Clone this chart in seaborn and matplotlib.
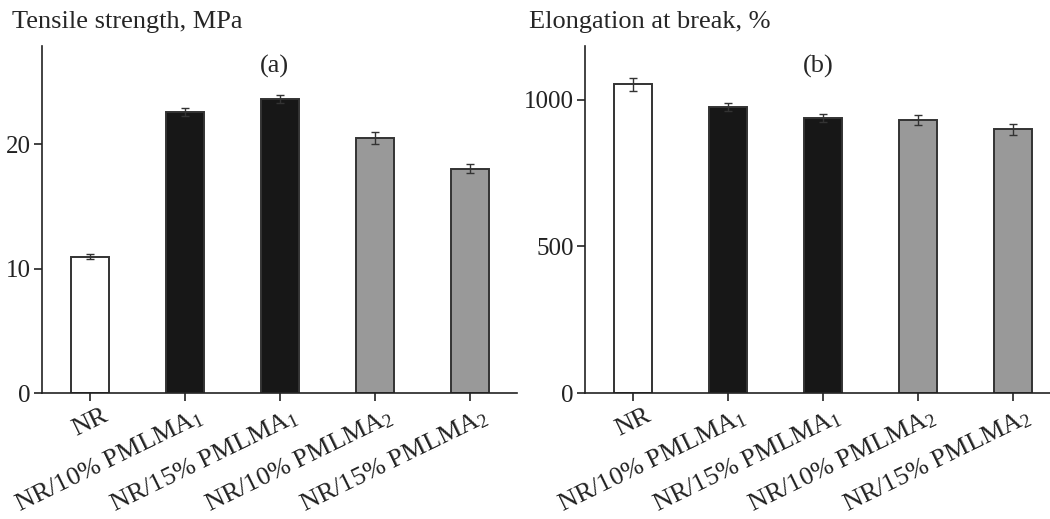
import matplotlib
matplotlib.use("Agg")
import matplotlib.pyplot as plt
import matplotlib.transforms as mtransforms
import seaborn as sns
import pandas as pd

samples = ['NR', 'NR/10% PMLMA$_1$', 'NR/15% PMLMA$_1$', 'NR/10% PMLMA$_2$', 'NR/15% PMLMA$_2$']
bar_colors = ['#ffffff', '#171717', '#171717', '#999999', '#999999']

tensile = [10.95, 22.6, 23.65, 20.5, 18.05]
tensile_err = [0.2, 0.35, 0.3, 0.5, 0.37]

elongation = [1052, 975, 937, 930, 899]
elongation_err = [23, 13, 13, 17, 18]

sns.set_style('white')
plt.rcParams['font.family'] = ['Liberation Serif', 'DejaVu Serif']
plt.rcParams['mathtext.fontset'] = 'custom'
plt.rcParams['mathtext.rm'] = 'Liberation Serif'
plt.rcParams['mathtext.it'] = 'Liberation Serif:italic'
plt.rcParams['font.size'] = 19

fig = plt.figure(figsize=(10.5, 5.19), dpi=100)
ax1 = fig.add_axes([42 / 1050, 1 - 393 / 519, 475 / 1050, 347 / 519])
ax2 = fig.add_axes([585 / 1050, 1 - 393 / 519, 475 / 1050, 347 / 519])


def draw_panel(ax, values, errs, ymax, yticks, tag, ylabel, xlab):
    df = pd.DataFrame({'sample': samples, 'value': values})
    sns.barplot(data=df, x='sample', y='value', hue='sample', palette=bar_colors,
                width=0.4, edgecolor='#333333', linewidth=1.4, legend=False, ax=ax)
    ax.errorbar(range(len(samples)), values, yerr=errs, fmt='none',
                ecolor='#333333', elinewidth=1, capsize=3, capthick=1)
    ax.set_xlim(-0.5, 4.5)
    ax.set_ylim(0, ymax)
    ax.set_yticks(yticks)
    ax.set_xlabel('')
    ax.set_ylabel('')
    for side in ['top', 'right']:
        ax.spines[side].set_visible(False)
    for side in ['left', 'bottom']:
        ax.spines[side].set_color('#222222')
        ax.spines[side].set_linewidth(1.2)
    ax.tick_params(axis='both', direction='out', length=6, width=1.2,
                   colors='#222222', left=True, bottom=True, pad=2)
    ax.tick_params(axis='y', labelsize=18)
    ax.set_xticks(range(len(samples)))
    ax.set_xticklabels(samples, rotation=26, ha='right', rotation_mode='anchor', fontsize=19)
    offset = mtransforms.ScaledTranslation(0.12, 0, fig.dpi_scale_trans)
    for lab in ax.get_xticklabels():
        lab.set_transform(lab.get_transform() + offset)
    ax.text(0.49, 0.94, tag, transform=ax.transAxes, ha='center', va='center', fontsize=19)
    fig.text(xlab, 1 - 22 / 519, ylabel, ha='left', va='center', fontsize=19)


draw_panel(ax1, tensile, tensile_err, 27.9, [0, 10, 20], '(a)', 'Tensile strength, MPa', 12 / 1050)
draw_panel(ax2, elongation, elongation_err, 1183, [0, 500, 1000], '(b)', 'Elongation at break, %', 529 / 1050)

fig.savefig('out.png', dpi=100)
